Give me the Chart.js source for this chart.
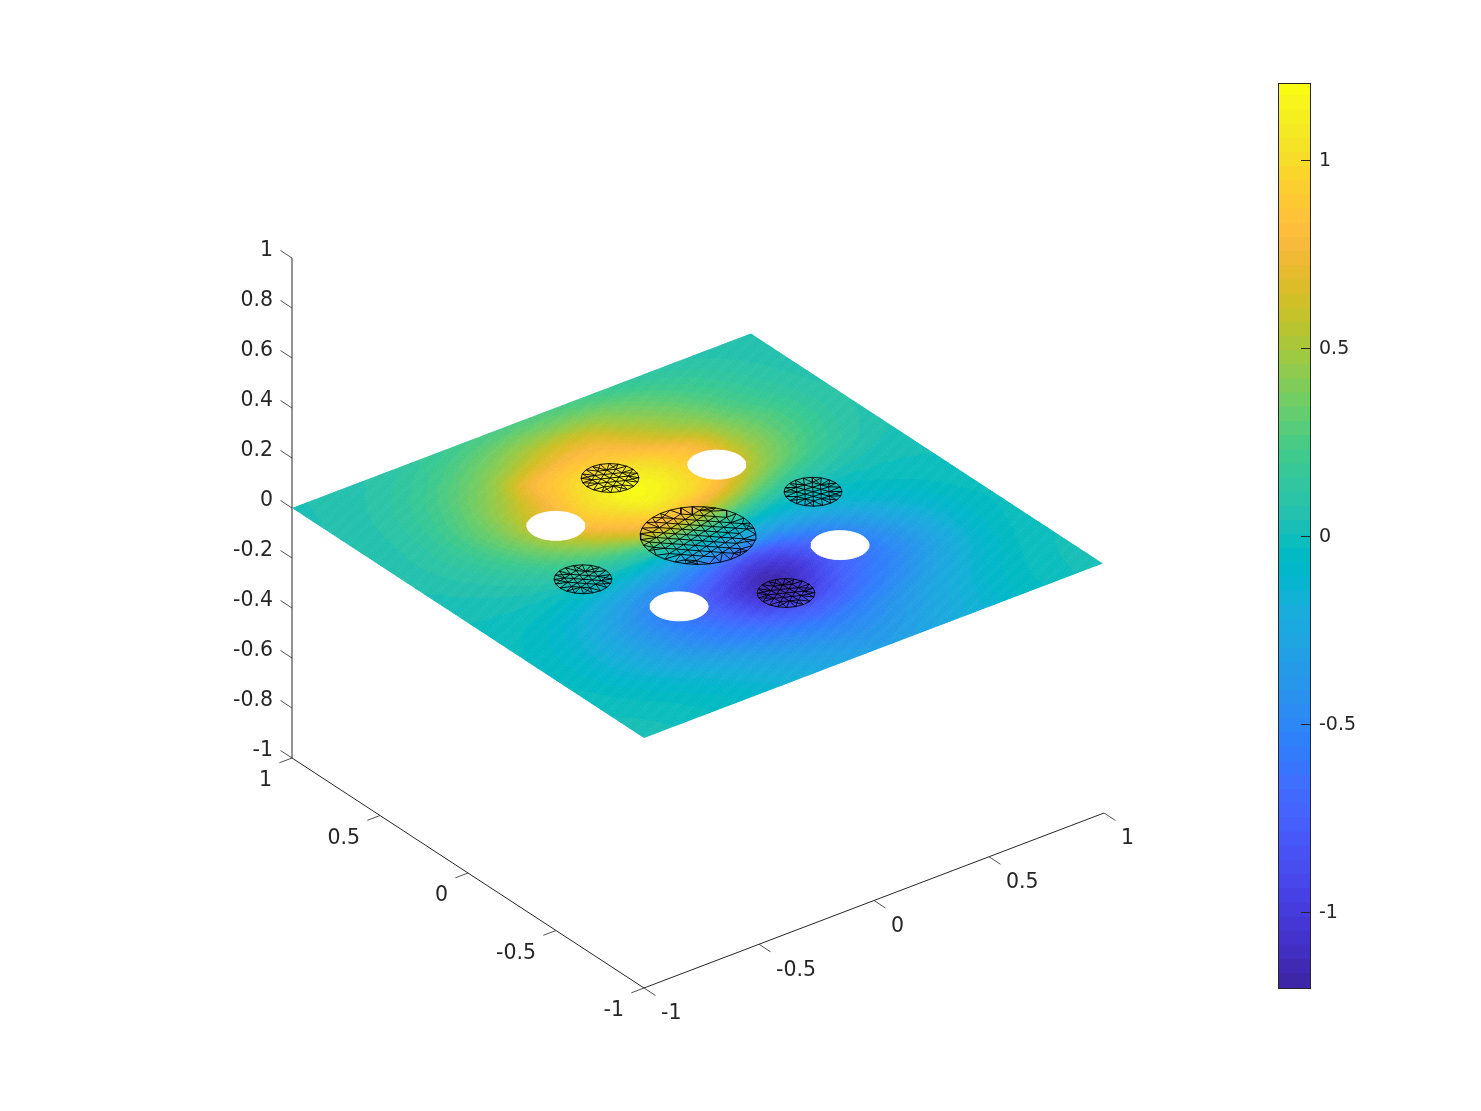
<!DOCTYPE html>
<html>
<head>
<meta charset="utf-8">
<script src="https://cdn.jsdelivr.net/npm/chart.js@4"></script>
<style>
html,body{margin:0;padding:0;background:#fff;width:1481px;height:1111px;overflow:hidden}
canvas{position:absolute;top:0}
</style>
</head>
<body>
<canvas id="main" width="1481" height="1111" style="left:0;width:1481px;height:1111px"></canvas>
<canvas id="bar" width="120" height="1111" style="left:1270px;width:120px;height:1111px"></canvas>
<script>
// ---- data ----
const xNodes = [-1,-0.875,-0.75,-0.625,-0.5,-0.375,-0.25,-0.125,0,0.125,0.25,0.375,0.5,0.625,0.75,0.875,0.995];
const yNodes = [1,0.875,0.75,0.625,0.5,0.375,0.25,0.125,0,-0.125,-0.25,-0.375,-0.5,-0.625,-0.75,-0.875,-1];
const surfaceValues = [
[.03,.04,.055,.075,.11,.145,.18,.21,.215,.21,.18,.14,.10,.075,.05,.04,.03],
[.03,.05,.075,.115,.18,.26,.345,.41,.44,.435,.40,.32,.24,.175,.115,.07,.04],
[.035,.06,.11,.18,.27,.37,.48,.61,.69,.67,.52,.42,.325,.225,.145,.09,.05],
[.045,.065,.125,.215,.355,.48,.75,.85,.88,.83,.69,.52,.41,.27,.18,.10,.055],
[.05,.07,.135,.28,.41,.60,.81,1.0,1.08,1.03,.90,.75,.50,.345,.24,.135,.07],
[.045,.08,.155,.27,.43,.66,.87,1.05,1.18,1.12,.95,.78,.52,.345,.215,.11,.06],
[.03,.07,.11,.215,.37,.54,.78,.92,1.06,1.0,.87,.62,.42,.29,.17,.09,.045],
[.01,.035,.06,.125,.215,.325,.48,.69,.72,.62,.48,.30,.155,.08,.045,.02,.01],
[.0,.01,.02,.045,.07,.09,.08,.10,.07,.03,-.03,-.12,-.07,-.03,-.02,.0,.005],
[-.01,-.03,-.04,-.09,-.16,-.21,-.28,-.36,-.34,-.31,-.33,-.26,-.16,-.07,-.03,-.02,.0],
[-.03,-.05,-.13,-.22,-.36,-.48,-.57,-.71,-.87,-.87,-.71,-.55,-.38,-.22,-.13,-.04,-.01],
[-.03,-.07,-.18,-.32,-.48,-.64,-.77,-.98,-1.14,-1.06,-.84,-.66,-.48,-.32,-.16,-.07,-.03],
[-.03,-.09,-.2,-.3,-.46,-.59,-.74,-.96,-1.11,-.96,-.74,-.62,-.48,-.33,-.16,-.05,-.02],
[-.02,-.07,-.16,-.26,-.39,-.52,-.62,-.74,-.8,-.74,-.62,-.5,-.36,-.22,-.13,-.04,.0],
[.0,-.03,-.08,-.15,-.22,-.33,-.43,-.52,-.57,-.53,-.43,-.33,-.22,-.14,-.05,-.02,.01],
[.01,-.01,-.03,-.07,-.15,-.21,-.3,-.36,-.42,-.4,-.33,-.26,-.17,-.09,-.04,-.01,.02],
[.03,.005,-.02,-.05,-.08,-.15,-.2,-.27,-.32,-.32,-.26,-.2,-.14,-.07,-.03,.0,.03]
];
const holeCenters = [[0.35,0.35],[-0.35,0.35],[0.35,-0.35],[-0.35,-0.35]];
const holeRadius = 0.1;
const meshDiscs = [[0,0,0.2],[0,0.5,0.1],[0.5,0,0.1],[-0.5,0,0.1],[0,-0.5,0.1]];
const xTicks = [-1,-0.5,0,0.5,1];
const yTicks = [-1,-0.5,0,0.5,1];
const zTicks = [-1,-0.8,-0.6,-0.4,-0.2,0,0.2,0.4,0.6,0.8,1];
const barTicks = [-1,-0.5,0,0.5,1];
const colorLimits = [-1.205,1.205];
const parula = [[.2422,.1504,.6603],[.2504,.1650,.7076],[.2578,.1818,.7511],[.2647,.1978,.7952],[.2706,.2147,.8364],[.2751,.2342,.8710],[.2783,.2559,.8991],[.2803,.2782,.9221],[.2813,.3006,.9414],[.2810,.3228,.9579],[.2795,.3447,.9717],[.2760,.3667,.9829],[.2699,.3892,.9906],[.2602,.4123,.9952],[.2440,.4358,.9988],[.2206,.4603,.9973],[.1963,.4847,.9892],[.1834,.5074,.9798],[.1786,.5289,.9682],[.1764,.5499,.9520],[.1687,.5703,.9359],[.1540,.5902,.9218],[.1460,.6091,.9079],[.1380,.6276,.8973],[.1248,.6459,.8883],[.1113,.6635,.8763],[.0952,.6798,.8598],[.0689,.6948,.8394],[.0297,.7082,.8163],[.0036,.7203,.7917],[.0067,.7312,.7660],[.0433,.7411,.7394],[.0964,.7500,.7120],[.1408,.7584,.6842],[.1717,.7670,.6554],[.1938,.7758,.6251],[.2161,.7843,.5923],[.2470,.7918,.5567],[.2906,.7973,.5188],[.3406,.8008,.4789],[.3909,.8029,.4354],[.4456,.8024,.3909],[.5044,.7993,.3480],[.5616,.7942,.3045],[.6174,.7876,.2612],[.6720,.7793,.2227],[.7242,.7698,.1910],[.7738,.7598,.1646],[.8203,.7498,.1535],[.8634,.7406,.1596],[.9035,.7330,.1774],[.9393,.7288,.2100],[.9728,.7298,.2394],[.9956,.7434,.2371],[.9970,.7659,.2199],[.9952,.7861,.1990],[.9892,.8137,.1885],[.9786,.8386,.1766],[.9676,.8639,.1643],[.9610,.8890,.1537],[.9597,.9135,.1423],[.9628,.9373,.1265],[.9691,.9606,.1064],[.9769,.9839,.0805]];

// ---- view and styles ----
const INK = '#262626';
const css = c => 'rgb(' + c.map(v => Math.round(v*255)).join(',') + ')';
const palette = parula.map(css);
function project(x, y, z) {
  return {x: 644 + 230*(x+1) - 176*(y+1), y: 738 - 87.5*(x+1) - 115*(y+1) - 250*z};
}
function colorOf(v) {
  const t = (v - colorLimits[0]) / (colorLimits[1] - colorLimits[0]);
  return palette[Math.max(0, Math.min(palette.length-1, Math.floor(t*palette.length)))];
}
// shading: ease the reading noise of the node table, keeping the two extremes
const last = xNodes.length-1;
const at = (r,c) => surfaceValues[Math.max(0,Math.min(last,r))][Math.max(0,Math.min(last,c))];
const shadedValues = surfaceValues.map((row,r) => row.map((v,c) => {
  let s=0;
  [[-1,1],[0,2],[1,1]].forEach(a => [[-1,1],[0,2],[1,1]].forEach(b => { s+=a[1]*b[1]*at(r+a[0],c+b[0]); }));
  const w=Math.max(0,1-Math.abs(v)/0.8);
  return v+(s/16-v)*w;
}));
function cr(p0,p1,p2,p3,t) {
  return 0.5*(2*p1 + (p2-p0)*t + (2*p0-5*p1+4*p2-p3)*t*t + (3*p1-p0-3*p2+p3)*t*t*t);
}
function fieldAt(col, row) {
  const n = last;
  const c = Math.min(n-1, Math.floor(col)), r = Math.min(n-1, Math.floor(row));
  const tc = col-c, tr = row-r, rows = [];
  for (let j=-1;j<=2;j++) {
    const R = shadedValues[Math.max(0,Math.min(n,r+j))];
    rows.push(cr(R[Math.max(0,c-1)],R[c],R[c+1],R[Math.min(n,c+2)],tc));
  }
  return cr(rows[0],rows[1],rows[2],rows[3],tr);
}

// ---- marks built from the data ----
const surfaceNodes = [];
yNodes.forEach((y,r) => xNodes.forEach((x,c) => surfaceNodes.push(Object.assign(project(x,y,0),{v:surfaceValues[r][c]}))));

function circle(cx,cy,rad,n) {
  const out = [];
  for (let i=0;i<=n;i++) {
    const a = i/n*2*Math.PI;
    out.push(project(cx+rad*Math.cos(a), cy+rad*Math.sin(a), 0));
  }
  return out;
}
// triangular lattice clipped to the disc, joined to a boundary ring
function meshEdges(cx,cy,rad,h,rot) {
  const gap = {x:null,y:null}, out = [], pts = [];
  const cs=Math.cos(rot), sn=Math.sin(rot), N=Math.ceil(rad/h)+2;
  const idx = new Map();
  for (let j=-N;j<=N;j++) for (let i=-N;i<=N;i++) {
    const u=(i+j/2)*h, v=j*h*Math.sqrt(3)/2;
    if (Math.hypot(u,v) < rad-0.55*h) {
      idx.set(i+','+j, pts.length);
      pts.push([u*cs-v*sn, u*sn+v*cs]);
    }
  }
  const P = p => project(cx+p[0],cy+p[1],0);
  [[1,0],[0,1],[-1,1]].forEach(d => {
    idx.forEach((k,key) => {
      const [i,j]=key.split(',').map(Number);
      const m=idx.get((i+d[0])+','+(j+d[1]));
      if (m!==undefined) out.push(P(pts[k]),P(pts[m]),gap);
    });
  });
  const nb=Math.round(2*Math.PI*rad/h), ring=[];
  for (let b=0;b<=nb;b++) {
    const a=b/nb*2*Math.PI, q=[rad*Math.cos(a),rad*Math.sin(a)];
    ring.push(P(q));
    if (b<nb) {
      const near=pts.map(p=>[Math.hypot(p[0]-q[0],p[1]-q[1]),p]).sort((A,B)=>A[0]-B[0]).slice(0,2);
      near.forEach(e=>out.push(P(q),P(e[1]),gap));
    }
  }
  out.push(...ring,gap);
  return out;
}
const meshData = [];
meshDiscs.forEach((d,i) => meshData.push(...meshEdges(d[0],d[1],d[2], d[2]>0.15?0.04:0.032, 0.25+i*0.35)));

function seg(a,b){ return [a,b,{x:null,y:null}]; }
const axisData = [
  ...seg(project(-1,-1,-1),project(1,-1,-1)),
  ...seg(project(-1,-1,-1),project(-1,1,-1)),
  ...seg(project(-1,1,-1),project(-1,1,1))
];
const tickData = [];
xTicks.forEach(t => tickData.push(...seg(project(t,-1,-1),project(t,-1.065,-1))));
yTicks.forEach(t => tickData.push(...seg(project(-1,t,-1),project(-1.055,t,-1))));
zTicks.forEach(t => tickData.push(...seg(project(-1,1,t),project(-1,1.065,t))));

const surfacePlugin = {
  id:'surface',
  beforeDatasetsDraw(chart){
    const ctx=chart.ctx, sx=chart.scales.x, sy=chart.scales.y, n=last, sub=12;
    const px=(c,r)=>{
      const x=xNodes[0]+(xNodes[n]-xNodes[0])*c/n, y=yNodes[0]+(yNodes[n]-yNodes[0])*r/n;
      const p=project(x,y,0);
      return [sx.getPixelForValue(p.x),sy.getPixelForValue(p.y)];
    };
    ctx.save();
    const c0=px(0,0),c1=px(n,0),c2=px(n,n),c3=px(0,n);
    ctx.beginPath();ctx.moveTo(...c0);ctx.lineTo(...c1);ctx.lineTo(...c2);ctx.lineTo(...c3);ctx.closePath();ctx.clip();
    ctx.lineWidth=0.7;
    const N=n*sub;
    for(let r=0;r<N;r++)for(let c=0;c<N;c++){
      const col=colorOf(fieldAt((c+.5)/sub,(r+.5)/sub));
      ctx.fillStyle=col;ctx.strokeStyle=col;
      ctx.beginPath();
      ctx.moveTo(...px(c/sub,r/sub));ctx.lineTo(...px((c+1)/sub,r/sub));
      ctx.lineTo(...px((c+1)/sub,(r+1)/sub));ctx.lineTo(...px(c/sub,(r+1)/sub));
      ctx.closePath();ctx.fill();ctx.stroke();
    }
    ctx.restore();
  }
};
const labelPlugin = {
  id:'axisLabels',
  afterDatasetsDraw(chart){
    const ctx=chart.ctx, sx=chart.scales.x, sy=chart.scales.y;
    ctx.save();
    ctx.fillStyle=INK;ctx.font='20.5px "DejaVu Sans"';ctx.textBaseline='middle';
    const put=(t,p,dx,dy,al)=>{ctx.textAlign=al;ctx.fillText(String(t),sx.getPixelForValue(p.x)+dx,sy.getPixelForValue(p.y)+dy);};
    xTicks.forEach(t=>put(t,project(t,-1,-1),17,26,'left'));
    yTicks.forEach(t=>put(t,project(-1,t,-1),-20,23,'right'));
    zTicks.forEach(t=>put(t,project(-1,1,t),-19,-7,'right'));
    ctx.restore();
  }
};
const holeSets = holeCenters.map(h => ({
  data:circle(h[0],h[1],holeRadius,72), showLine:true, fill:'shape', pointRadius:0,
  backgroundColor:'#fff', borderColor:'#fff', borderWidth:1, tension:0
}));

new Chart(document.getElementById('main'),{
  type:'scatter',
  data:{datasets:[
    {label:'surface',data:surfaceNodes,pointRadius:0,showLine:false},
    ...holeSets,
    {label:'mesh',data:meshData,showLine:true,pointRadius:0,borderColor:'#000',borderWidth:0.9,spanGaps:false,fill:false},
    {label:'axes',data:axisData,showLine:true,pointRadius:0,borderColor:INK,borderWidth:1,spanGaps:false,fill:false},
    {label:'ticks',data:tickData,showLine:true,pointRadius:0,borderColor:INK,borderWidth:0.8,spanGaps:false,fill:false}
  ]},
  options:{
    responsive:false,animation:false,devicePixelRatio:1,
    layout:{padding:0},
    plugins:{legend:{display:false},tooltip:{enabled:false}},
    scales:{
      x:{type:'linear',min:0,max:1481,display:false},
      y:{type:'linear',min:0,max:1111,reverse:true,display:false}
    }
  },
  plugins:[surfacePlugin,labelPlugin]
});

// ---- colour bar ----
const step=(colorLimits[1]-colorLimits[0])/palette.length;
const barPlugin={
  id:'barFrame',
  afterDatasetsDraw(chart){
    const ctx=chart.ctx,a=chart.chartArea,s=chart.scales.y;
    ctx.save();ctx.strokeStyle=INK;ctx.lineWidth=1;
    ctx.strokeRect(a.left+.5,a.top+.5,a.right-a.left-1,a.bottom-a.top-1);
    barTicks.forEach(t=>{
      const y=Math.round(s.getPixelForValue(t))+.5;
      ctx.beginPath();ctx.moveTo(a.right-10,y);ctx.lineTo(a.right,y);ctx.stroke();
    });
    ctx.restore();
  }
};
new Chart(document.getElementById('bar'),{
  type:'bar',
  data:{labels:['colour'],datasets:palette.map((c,i)=>({
    data:[[colorLimits[0]+i*step, colorLimits[0]+(i+1)*step+(i<palette.length-1?0.004:0)]],
    backgroundColor:c,borderWidth:0,barPercentage:1,categoryPercentage:1,grouped:false
  }))},
  options:{
    responsive:false,animation:false,devicePixelRatio:1,
    layout:{padding:{left:8,top:83,bottom:122,right:0}},
    plugins:{legend:{display:false},tooltip:{enabled:false}},
    scales:{
      x:{display:false,stacked:false},
      y:{position:'right',min:colorLimits[0],max:colorLimits[1],
        afterBuildTicks:s=>{s.ticks=barTicks.map(v=>({value:v}));},
        afterFit:s=>{s.width=79;},
        grid:{display:false,drawTicks:false},border:{display:false},
        ticks:{autoSkip:false,padding:8,labelOffset:1,color:INK,font:{family:'"DejaVu Sans"',size:19},callback:v=>String(v)}
      }
    }
  },
  plugins:[barPlugin]
});
</script>
</body>
</html>
